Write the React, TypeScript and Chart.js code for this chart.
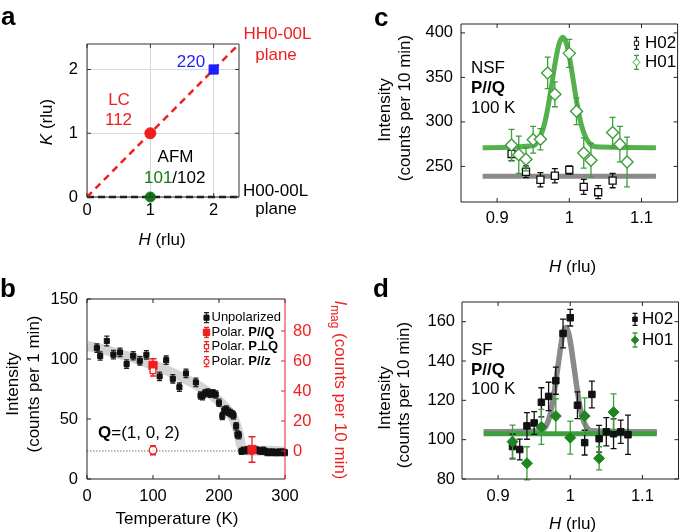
import React, { useEffect, useRef } from 'react';
import { Chart, registerables } from 'chart.js';
Chart.register(...registerables);

const FONT = "'Liberation Sans', Arial, Helvetica, sans-serif";
Chart.defaults.font.family = FONT;
Chart.defaults.font.size = 16;
Chart.defaults.color = '#000';

const RED = '#f01e1e';
const BLUE = '#1f1fff';
const GREEN_A = '#147a14';
const GREEN_C = '#56b04e';
const GREEN_EDGE = '#3d9e3d';
const GREEN_FILL = '#1f861f';
const GRAY_FIT = '#8a8a8a';
const TS = 17; // axis title size

// ---------- Panel a ----------
const A_TICKS_H = [0, 1, 2];
const A_TICKS_K = [0, 1, 2];
const A_LC_H = [1];
const A_LC_K = [1];
const A_220_H = [2];
const A_220_K = [2];
const A_AFM_H = [1];
const A_AFM_K = [0];
const A_HH0_H = [0, 2.4];
const A_HH0_K = [0, 2.4];
const A_H00_H = [0, 2.4];
const A_H00_K = [0, 0];

// ---------- Panel b ----------
const B_TICKS_T = [0, 100, 200, 300];
const B_TICKS_I = [0, 50, 100, 150];
const B_TICKS_MAG = [0, 20, 40, 60, 80];
const B_UNPOL_T = [15, 20, 30, 40, 50, 60, 70, 80, 90, 110, 120, 130, 140, 150, 165, 172, 175, 179, 183, 187, 191, 195, 200, 205, 208, 211, 214, 217, 220, 222, 226, 228, 230, 234, 237, 240, 243, 246, 249, 252, 255, 258, 261, 264, 267, 270, 273, 276, 279, 282, 285, 288, 291, 294, 297, 300];
const B_UNPOL_I = [109, 102.5, 115, 103.6, 105.5, 95.8, 102.7, 98.5, 103.5, 85.5, 99, 83.5, 76.5, 88, 80.5, 69.5, 69, 71.5, 72, 71, 71.5, 70.5, 63.5, 52.5, 57, 58, 56, 55, 54, 53, 44, 37, 36.5, 23, 24, 23.5, 24.5, 24, 23.5, 24, 24.5, 24, 23.5, 23, 24, 23, 22, 22.5, 22, 22.5, 22, 22, 22.5, 22, 22.5, 22];
const B_UNPOL_ERR = [3.5, 3.5, 4, 3.5, 3.5, 3.5, 3.5, 3.5, 3.5, 3.5, 3.5, 3.5, 3.5, 3.5, 3.5, 3, 3, 3, 3, 3, 3, 3, 3, 3, 3, 3, 3, 3, 3, 3, 3, 3, 3, 2.5, 2.5, 2.5, 2.5, 2.5, 2.5, 2.5, 2.5, 2.5, 2.5, 2.5, 2.5, 2.5, 2.5, 2.5, 2.5, 2.5, 2.5, 2.5, 2.5, 2.5, 2.5, 2.5];
const B_PQ_T = [100, 250];
const B_PQ_MAG = [57, 1];
const B_PQ_ERR = [4.5, 8.5];
const B_PPERP_T = [100];
const B_PPERP_MAG = [53.5];
const B_PPERP_ERR = [3.5];
const B_PZ_T = [100];
const B_PZ_MAG = [0.5];
const B_PZ_ERR = [3];
const B_BAND_T = [0, 25, 50, 75, 100, 125, 150, 175, 200, 210, 220, 226, 230, 233, 236, 240, 270, 300];
const B_BAND_I = [111, 108, 104, 100, 95, 89.5, 83, 75.5, 65, 59.5, 52, 45, 37, 29, 25, 24, 23.5, 23];
const B_ZERO_T = [0, 300];
const B_ZERO_MAG = [0, 0];

// ---------- Panel c ----------
const CD_TICKS_H = [0.9, 1, 1.1];
const C_TICKS_I = [250, 300, 350, 400];
const C_H02_H = [0.92, 0.94, 0.96, 0.98, 1.0, 1.02, 1.04, 1.06];
const C_H02_I = [264, 244, 235, 239.5, 246, 227, 221, 234];
const C_H02_ERR = [7.5, 6.5, 8, 8, 4.6, 8.4, 7.3, 8];
const C_H01_H = [0.92, 0.93, 0.94, 0.95, 0.96, 0.97, 0.98, 1.0, 1.01, 1.02, 1.03, 1.06, 1.07, 1.08];
const C_H01_I = [274, 263, 258, 280, 280.5, 355, 331, 377, 312, 265, 257, 288, 275, 255];
const C_H01_ERR = [17.7, 21, 13, 15, 12, 17.7, 14, 15.8, 15, 17, 19, 17, 20, 28];
const C_FIT01_H = [0.88, 0.951, 0.956, 0.961, 0.966, 0.971, 0.976, 0.981, 0.986, 0.991, 0.996, 1.001, 1.006, 1.011, 1.016, 1.021, 1.026, 1.031, 1.036, 1.12];
const C_FIT01_I = [271, 273.5, 278, 286, 299, 319, 344, 369, 388, 395, 388, 369, 344, 319, 299, 286, 278, 273.5, 272, 271];
const C_FIT02_H = [0.88, 1.12];
const C_FIT02_I = [239, 239];

// ---------- Panel d ----------
const D_TICKS_I = [80, 100, 120, 140, 160];
const D_H02_H = [0.92, 0.93, 0.94, 0.95, 0.96, 0.97, 0.98, 0.99, 1.0, 1.01, 1.02, 1.03, 1.04, 1.05, 1.06, 1.07, 1.08];
const D_H02_I = [96.5, 95, 107, 108.5, 119, 122, 130, 154, 162, 117.5, 98.5, 123, 100.5, 104, 103, 104, 102.5];
const D_H02_ERR = [6.3, 5.3, 6.8, 5.8, 7.4, 7.2, 6.9, 7.3, 4.2, 6.8, 6.3, 6.8, 6.8, 7.2, 7.6, 5.9, 10];
const D_H01_H = [0.92, 0.94, 0.96, 0.98, 1.0, 1.02, 1.04, 1.06];
const D_H01_I = [99, 88, 106.5, 112, 101, 112, 90.5, 114];
const D_H01_ERR = [8.4, 8.4, 8.9, 8.8, 8.4, 9.3, 5.9, 9.3];
const D_FIT02_H = [0.88, 0.959, 0.964, 0.969, 0.974, 0.979, 0.984, 0.989, 0.994, 0.999, 1.004, 1.009, 1.014, 1.019, 1.024, 1.029, 1.12];
const D_FIT02_I = [104, 104.5, 105.7, 109, 115.7, 127, 140, 152, 157, 152, 140, 127, 115.7, 109, 105.7, 104.5, 104];
const D_FIT01_H = [0.88, 1.12];
const D_FIT01_I = [103, 103];

// ---------- helpers ----------
type Part = { t: string; b?: boolean; i?: boolean; c?: string; sub?: boolean };
type TextItem = { parts: Part[]; x: number; y: number; size?: number; align?: 'left' | 'center' | 'right'; rot?: number; color?: string; base?: CanvasTextBaseline };
type Marker = { style: 'rect' | 'rectRot' | 'circle'; r: number; fill: string; stroke: string; lw: number };
type LegItem = { x: number; y: number; tx: number; marker: Marker; err: number; cap: number; errColor: string; parts: Part[]; size: number };
type TickSpec = { scale: string; edge: 'left' | 'right' | 'top' | 'bottom'; color: string };
type Deco = { frame: { color: string; right?: string }; ticks: TickSpec[]; texts: TextItem[]; legend: LegItem[] };

const fontFor = (p: Part, size: number) => `${p.i ? 'italic ' : ''}${p.b ? 'bold ' : ''}${p.sub ? size * 0.7 : size}px ${FONT}`;

function drawRich(ctx: CanvasRenderingContext2D, it: TextItem) {
  const size = it.size || 16;
  ctx.save();
  ctx.translate(it.x, it.y);
  if (it.rot) ctx.rotate(it.rot);
  let total = 0;
  for (const p of it.parts) { ctx.font = fontFor(p, size); total += ctx.measureText(p.t).width; }
  const align = it.align || 'left';
  let cx = align === 'center' ? -total / 2 : align === 'right' ? -total : 0;
  ctx.textAlign = 'left';
  ctx.textBaseline = it.base || 'middle';
  for (const p of it.parts) {
    ctx.font = fontFor(p, size);
    ctx.fillStyle = p.c || it.color || '#000';
    ctx.fillText(p.t, cx, p.sub ? size * 0.32 : 0);
    cx += ctx.measureText(p.t).width;
  }
  ctx.restore();
}

function drawMarker(ctx: CanvasRenderingContext2D, m: Marker, x: number, y: number) {
  ctx.save();
  ctx.beginPath();
  if (m.style === 'circle') ctx.arc(x, y, m.r, 0, Math.PI * 2);
  else if (m.style === 'rect') { const s = m.r * Math.SQRT1_2; ctx.rect(x - s, y - s, 2 * s, 2 * s); }
  else { ctx.moveTo(x, y - m.r); ctx.lineTo(x + m.r, y); ctx.lineTo(x, y + m.r); ctx.lineTo(x - m.r, y); ctx.closePath(); }
  ctx.fillStyle = m.fill; ctx.fill();
  ctx.lineWidth = m.lw; ctx.strokeStyle = m.stroke; ctx.stroke();
  ctx.restore();
}

function drawErr(ctx: CanvasRenderingContext2D, x: number, y1: number, y2: number, cap: number, color: string) {
  ctx.save();
  ctx.strokeStyle = color; ctx.lineWidth = 1.3;
  ctx.beginPath();
  ctx.moveTo(x, y1); ctx.lineTo(x, y2);
  ctx.moveTo(x - cap, y1); ctx.lineTo(x + cap, y1);
  ctx.moveTo(x - cap, y2); ctx.lineTo(x + cap, y2);
  ctx.stroke();
  ctx.restore();
}

function makeDeco(deco: Deco) {
  return {
    id: 'deco',
    beforeDatasetDraw(chart: any, args: any) {
      const ds: any = chart.data.datasets[args.index];
      if (!ds.err) return;
      const ys = chart.scales[ds.yAxisID || 'y'];
      const ctx = chart.ctx;
      ds.data.forEach((p: any, i: number) => {
        const el = args.meta.data[i];
        if (!el) return;
        drawErr(ctx, el.x, ys.getPixelForValue(p.y - ds.err[i]), ys.getPixelForValue(p.y + ds.err[i]), ds.cap || 3, ds.errColor || '#000');
      });
    },
    afterDatasetsDraw(chart: any) {
      const ctx = chart.ctx;
      const ca = chart.chartArea;
      ctx.save();
      ctx.lineWidth = 1;
      for (const spec of deco.ticks) {
        const s = chart.scales[spec.scale];
        ctx.strokeStyle = spec.color;
        ctx.beginPath();
        for (const t of s.ticks) {
          const p = s.getPixelForValue(t.value);
          if (spec.edge === 'left') { ctx.moveTo(ca.left, p); ctx.lineTo(ca.left + 4, p); }
          if (spec.edge === 'right') { ctx.moveTo(ca.right, p); ctx.lineTo(ca.right - 4, p); }
          if (spec.edge === 'bottom') { ctx.moveTo(p, ca.bottom); ctx.lineTo(p, ca.bottom - 4); }
          if (spec.edge === 'top') { ctx.moveTo(p, ca.top); ctx.lineTo(p, ca.top + 4); }
        }
        ctx.stroke();
      }
      ctx.strokeStyle = deco.frame.color;
      ctx.beginPath();
      ctx.moveTo(ca.right, ca.top); ctx.lineTo(ca.left, ca.top); ctx.lineTo(ca.left, ca.bottom); ctx.lineTo(ca.right, ca.bottom);
      if (!deco.frame.right) ctx.lineTo(ca.right, ca.top);
      ctx.stroke();
      if (deco.frame.right) {
        ctx.strokeStyle = deco.frame.right;
        ctx.beginPath(); ctx.moveTo(ca.right, ca.top); ctx.lineTo(ca.right, ca.bottom); ctx.stroke();
      }
      ctx.restore();
    },
    afterDraw(chart: any) {
      const ctx = chart.ctx;
      for (const t of deco.texts) drawRich(ctx, t);
      for (const l of deco.legend) {
        drawErr(ctx, l.x, l.y - l.err, l.y + l.err, l.cap, l.errColor);
        drawMarker(ctx, l.marker, l.x, l.y);
        drawRich(ctx, { parts: l.parts, x: l.tx, y: l.y, size: l.size });
      }
    },
  };
}

const pts = (xs: number[], ys: number[]) => xs.map((x, i) => ({ x, y: ys[i] }));

function markerDs(label: string, xs: number[], ys: number[], o: any) {
  return {
    label, data: pts(xs, ys), showLine: false,
    pointStyle: o.style, pointRadius: o.r, pointHoverRadius: o.r,
    pointBackgroundColor: o.fill, pointBorderColor: o.stroke, pointBorderWidth: o.lw,
    err: o.err, errColor: o.errColor, cap: o.cap, yAxisID: o.yAxisID || 'y', clip: false,
  };
}

function lineDs(label: string, xs: number[], ys: number[], o: any) {
  return {
    label, data: pts(xs, ys), showLine: true, pointRadius: 0, pointHoverRadius: 0,
    borderColor: o.color, borderWidth: o.w, borderDash: o.dash || [], fill: false,
    cubicInterpolationMode: o.smooth ? 'monotone' : 'default', tension: 0,
    borderCapStyle: 'butt', clip: o.clip === undefined ? undefined : o.clip, yAxisID: o.yAxisID || 'y',
  };
}

function mkScale(o: { pos: 'bottom' | 'left' | 'right'; min: number; max: number; ticks: number[]; size: number; pad: number; color?: string; grid?: boolean }) {
  return {
    type: 'linear', position: o.pos, min: o.min, max: o.max,
    grid: { display: !!o.grid, color: '#d9d9d9', lineWidth: 1, drawTicks: false },
    border: { display: false },
    ticks: { color: o.color || '#000', padding: o.pad, font: { family: FONT, size: 16.5 }, autoSkip: false, maxRotation: 0, minRotation: 0, callback: (v: number) => String(v) },
    afterBuildTicks: (s: any) => { s.ticks = o.ticks.map((v) => ({ value: v })); },
    afterFit: (s: any) => { if (o.pos === 'bottom') s.height = o.size; else s.width = o.size; },
  };
}

function chartCfg(datasets: any[], scales: any, pad: any, deco: Deco): any {
  return {
    type: 'scatter',
    data: { datasets },
    options: {
      responsive: false, animation: false, devicePixelRatio: 1, events: [],
      layout: { padding: pad },
      plugins: { legend: { display: false }, tooltip: { enabled: false } },
      scales,
    },
    plugins: [makeDeco(deco)],
  };
}

const W = 685, H = 532;

function cfgA() {
  const datasets = [
    markerDs('LC 112', A_LC_H, A_LC_K, { style: 'circle', r: 5.5, fill: RED, stroke: RED, lw: 1 }),
    markerDs('220', A_220_H, A_220_K, { style: 'rect', r: 6.5, fill: BLUE, stroke: BLUE, lw: 1 }),
    markerDs('AFM 101/102', A_AFM_H, A_AFM_K, { style: 'circle', r: 5, fill: GREEN_A, stroke: GREEN_A, lw: 1 }),
    lineDs('HH0-00L plane', A_HH0_H, A_HH0_K, { color: RED, w: 2.5, dash: [7, 5], clip: false }),
    lineDs('H00-00L plane', A_H00_H, A_H00_K, { color: '#111', w: 2.5, dash: [7, 4], clip: false }),
  ];
  const scales = {
    x: mkScale({ pos: 'bottom', min: 0, max: 2.4, ticks: A_TICKS_H, size: 30, pad: 4, grid: true }),
    y: mkScale({ pos: 'left', min: 0, max: 2.4, ticks: A_TICKS_K, size: 40, pad: 9, grid: true }),
  };
  const pad = { left: 87 - 40, top: 44, right: W - 239, bottom: H - 197 - 30 };
  const deco: Deco = {
    frame: { color: '#333' },
    ticks: [
      { scale: 'x', edge: 'bottom', color: '#333' }, { scale: 'x', edge: 'top', color: '#333' },
      { scale: 'y', edge: 'left', color: '#333' }, { scale: 'y', edge: 'right', color: '#333' },
    ],
    texts: [
      { parts: [{ t: 'a', b: true }], x: 1, y: 25, size: 26, base: 'alphabetic' },
      { parts: [{ t: 'K', i: true }, { t: ' (rlu)' }], x: 47, y: 122, rot: -Math.PI / 2, align: 'center', size: TS },
      { parts: [{ t: 'H', i: true }, { t: ' (rlu)' }], x: 162, y: 240, align: 'center', size: TS },
      { parts: [{ t: 'LC', c: RED }], x: 119, y: 100, align: 'center', size: TS },
      { parts: [{ t: '112', c: RED }], x: 118.5, y: 120.5, align: 'center', size: TS },
      { parts: [{ t: '220', c: BLUE }], x: 191, y: 62, align: 'center', size: TS },
      { parts: [{ t: 'AFM' }], x: 175.5, y: 157.5, align: 'center', size: TS },
      { parts: [{ t: '101', c: GREEN_A }, { t: '/102' }], x: 144, y: 178.5, size: TS },
      { parts: [{ t: 'HH0-00L', c: RED }], x: 277.5, y: 34, align: 'center', size: TS },
      { parts: [{ t: 'plane', c: RED }], x: 276, y: 55, align: 'center', size: TS },
      { parts: [{ t: 'H00-00L' }], x: 275.5, y: 191, align: 'center', size: TS },
      { parts: [{ t: 'plane' }], x: 276, y: 209, align: 'center', size: TS },
    ],
    legend: [],
  };
  return chartCfg(datasets, scales, pad, deco);
}

function cfgB() {
  const datasets = [
    markerDs('Polar. P//z', B_PZ_T, B_PZ_MAG, { style: 'circle', r: 3.8, fill: '#fff', stroke: RED, lw: 1.3, err: B_PZ_ERR, errColor: RED, cap: 3, yAxisID: 'y2' }),
    markerDs('Polar. P⊥Q', B_PPERP_T, B_PPERP_MAG, { style: 'rect', r: 4, fill: '#fff', stroke: RED, lw: 1.2, err: B_PPERP_ERR, errColor: RED, cap: 3, yAxisID: 'y2' }),
    markerDs('Polar. P//Q', B_PQ_T, B_PQ_MAG, { style: 'rect', r: 5.8, fill: RED, stroke: RED, lw: 1, err: B_PQ_ERR, errColor: RED, cap: 3.5, yAxisID: 'y2' }),
    markerDs('Unpolarized', B_UNPOL_T, B_UNPOL_I, { style: 'rect', r: 3.6, fill: '#111', stroke: '#111', lw: 1, err: B_UNPOL_ERR, errColor: '#222', cap: 2.5 }),
    lineDs('zero', B_ZERO_T, B_ZERO_MAG, { color: '#777', w: 1, dash: [1.5, 1.5], yAxisID: 'y2' }),
    lineDs('fit', B_BAND_T, B_BAND_I, { color: '#d4d4d4', w: 10, smooth: true }),
  ];
  const scales = {
    x: mkScale({ pos: 'bottom', min: 0, max: 300, ticks: B_TICKS_T, size: 30, pad: 8 }),
    y: mkScale({ pos: 'left', min: 0, max: 150, ticks: B_TICKS_I, size: 40, pad: 9 }),
    y2: mkScale({ pos: 'right', min: -18.67, max: 101.33, ticks: B_TICKS_MAG, size: 40, pad: 8, color: RED }),
  };
  const pad = { left: 87 - 40, top: 299, right: W - 285 - 40, bottom: H - 479 - 30 };
  const leg = (y: number, marker: Marker, parts: Part[], errColor: string): LegItem => ({ x: 206.5, y, tx: 211.5, marker, err: 5, cap: 2.5, errColor, parts, size: 13 });
  const deco: Deco = {
    frame: { color: '#222', right: RED },
    ticks: [
      { scale: 'x', edge: 'bottom', color: '#222' }, { scale: 'x', edge: 'top', color: '#222' },
      { scale: 'y', edge: 'left', color: '#222' }, { scale: 'y2', edge: 'right', color: RED },
    ],
    texts: [
      { parts: [{ t: 'b', b: true }], x: 0, y: 297, size: 26, base: 'alphabetic' },
      { parts: [{ t: 'Intensity' }], x: 13, y: 384, rot: -Math.PI / 2, align: 'center', size: TS },
      { parts: [{ t: '(counts per 1 min)' }], x: 34, y: 384, rot: -Math.PI / 2, align: 'center', size: TS },
      { parts: [{ t: 'Temperature (K)' }], x: 177, y: 519, align: 'center', size: TS },
      { parts: [{ t: 'Q', b: true }, { t: '=(1, 0, 2)' }], x: 98, y: 433, size: TS },
      { parts: [{ t: 'I', i: true }, { t: 'mag', sub: true }, { t: ' (counts per 10 min)' }], x: 340, y: 390, rot: Math.PI / 2, align: 'center', color: RED, size: TS },
    ],
    legend: [
      leg(317.7, { style: 'rect', r: 3.6, fill: '#111', stroke: '#111', lw: 1 }, [{ t: 'Unpolarized' }], '#222'),
      leg(332.3, { style: 'rect', r: 4.5, fill: RED, stroke: RED, lw: 1 }, [{ t: 'Polar. ' }, { t: 'P//Q', b: true }], RED),
      leg(346.7, { style: 'rect', r: 3, fill: '#fff', stroke: RED, lw: 1.1 }, [{ t: 'Polar. ' }, { t: 'P⊥Q', b: true }], RED),
      leg(361.7, { style: 'circle', r: 2.5, fill: '#fff', stroke: RED, lw: 1.1 }, [{ t: 'Polar. ' }, { t: 'P//z', b: true }], RED),
    ],
  };
  return chartCfg(datasets, scales, pad, deco);
}

function cfgC() {
  const datasets = [
    markerDs('H01', C_H01_H, C_H01_I, { style: 'rectRot', r: 6, fill: '#fff', stroke: GREEN_EDGE, lw: 1.4, err: C_H01_ERR, errColor: GREEN_EDGE, cap: 3 }),
    markerDs('H02', C_H02_H, C_H02_I, { style: 'rect', r: 5, fill: '#fff', stroke: '#111', lw: 1.3, err: C_H02_ERR, errColor: '#111', cap: 3 }),
    lineDs('H01 fit', C_FIT01_H, C_FIT01_I, { color: GREEN_C, w: 5, smooth: true }),
    lineDs('H02 fit', C_FIT02_H, C_FIT02_I, { color: GRAY_FIT, w: 5 }),
  ];
  const scales = {
    x: mkScale({ pos: 'bottom', min: 0.85, max: 1.15, ticks: CD_TICKS_H, size: 30, pad: 7 }),
    y: mkScale({ pos: 'left', min: 210, max: 410, ticks: C_TICKS_I, size: 40, pad: 8 }),
  };
  const pad = { left: 461 - 40, top: 24, right: W - 683, bottom: H - 202 - 30 };
  const deco: Deco = {
    frame: { color: '#222' },
    ticks: [
      { scale: 'x', edge: 'bottom', color: '#222' }, { scale: 'x', edge: 'top', color: '#222' },
      { scale: 'y', edge: 'left', color: '#222' }, { scale: 'y', edge: 'right', color: '#222' },
    ],
    texts: [
      { parts: [{ t: 'c', b: true }], x: 374, y: 26, size: 26, base: 'alphabetic' },
      { parts: [{ t: 'Intensity' }], x: 385, y: 110, rot: -Math.PI / 2, align: 'center', size: TS },
      { parts: [{ t: '(counts per 10 min)' }], x: 405, y: 108, rot: -Math.PI / 2, align: 'center', size: TS },
      { parts: [{ t: 'H', i: true }, { t: ' (rlu)' }], x: 572.5, y: 267, align: 'center', size: TS },
      { parts: [{ t: 'NSF' }], x: 471, y: 68.5, size: TS },
      { parts: [{ t: 'P//Q', b: true }], x: 471, y: 88, size: TS },
      { parts: [{ t: '100 K' }], x: 471, y: 108, size: TS },
    ],
    legend: [
      { x: 636.5, y: 43.3, tx: 645, marker: { style: 'rect', r: 3, fill: '#fff', stroke: '#111', lw: 1 }, err: 6, cap: 2.5, errColor: '#111', parts: [{ t: 'H02' }], size: TS },
      { x: 636.5, y: 62.3, tx: 645, marker: { style: 'rectRot', r: 3.5, fill: '#fff', stroke: GREEN_EDGE, lw: 1 }, err: 7, cap: 2.5, errColor: GREEN_EDGE, parts: [{ t: 'H01' }], size: TS },
    ],
  };
  return chartCfg(datasets, scales, pad, deco);
}

function cfgD() {
  const datasets = [
    markerDs('H01', D_H01_H, D_H01_I, { style: 'rectRot', r: 5.5, fill: GREEN_FILL, stroke: GREEN_FILL, lw: 1, err: D_H01_ERR, errColor: GREEN_EDGE, cap: 3 }),
    markerDs('H02', D_H02_H, D_H02_I, { style: 'rect', r: 4.6, fill: '#111', stroke: '#111', lw: 1, err: D_H02_ERR, errColor: '#111', cap: 3 }),
    lineDs('H01 fit', D_FIT01_H, D_FIT01_I, { color: '#3f9f3f', w: 5 }),
    lineDs('H02 fit', D_FIT02_H, D_FIT02_I, { color: GRAY_FIT, w: 5.5, smooth: true }),
  ];
  const scales = {
    x: mkScale({ pos: 'bottom', min: 0.85, max: 1.15, ticks: CD_TICKS_H, size: 30, pad: 8 }),
    y: mkScale({ pos: 'left', min: 80, max: 170, ticks: D_TICKS_I, size: 40, pad: 7 }),
  };
  const pad = { left: 462 - 40, top: 302, right: W - 683, bottom: H - 479 - 30 };
  const deco: Deco = {
    frame: { color: '#222' },
    ticks: [
      { scale: 'x', edge: 'bottom', color: '#222' }, { scale: 'x', edge: 'top', color: '#222' },
      { scale: 'y', edge: 'left', color: '#222' }, { scale: 'y', edge: 'right', color: '#222' },
    ],
    texts: [
      { parts: [{ t: 'd', b: true }], x: 373, y: 297, size: 26, base: 'alphabetic' },
      { parts: [{ t: 'Intensity' }], x: 385, y: 398, rot: -Math.PI / 2, align: 'center', size: TS },
      { parts: [{ t: '(counts per 10 min)' }], x: 404, y: 395, rot: -Math.PI / 2, align: 'center', size: TS },
      { parts: [{ t: 'H', i: true }, { t: ' (rlu)' }], x: 572.5, y: 524, align: 'center', size: TS },
      { parts: [{ t: 'SF' }], x: 471, y: 350, size: TS },
      { parts: [{ t: 'P//Q', b: true }], x: 471, y: 370, size: TS },
      { parts: [{ t: '100 K' }], x: 471, y: 389, size: TS },
    ],
    legend: [
      { x: 635, y: 319.3, tx: 642, marker: { style: 'rect', r: 3.2, fill: '#111', stroke: '#111', lw: 1 }, err: 6, cap: 2.5, errColor: '#111', parts: [{ t: 'H02' }], size: TS },
      { x: 635, y: 340, tx: 642, marker: { style: 'rectRot', r: 3.8, fill: GREEN_FILL, stroke: GREEN_FILL, lw: 1 }, err: 7, cap: 2.5, errColor: GREEN_EDGE, parts: [{ t: 'H01' }], size: TS },
    ],
  };
  return chartCfg(datasets, scales, pad, deco);
}

function Panel({ make }: { make: () => any }) {
  const ref = useRef<HTMLCanvasElement | null>(null);
  useEffect(() => {
    const chart = new Chart(ref.current as HTMLCanvasElement, make());
    return () => chart.destroy();
  }, []);
  return <canvas ref={ref} width={W} height={H} style={{ position: 'absolute', left: 0, top: 0, width: W, height: H }} />;
}

export default function App() {
  return (
    <div style={{ position: 'absolute', left: 0, top: 0, width: W, height: H, background: '#fff', overflow: 'hidden' }}>
      <Panel make={cfgA} />
      <Panel make={cfgB} />
      <Panel make={cfgC} />
      <Panel make={cfgD} />
    </div>
  );
}
